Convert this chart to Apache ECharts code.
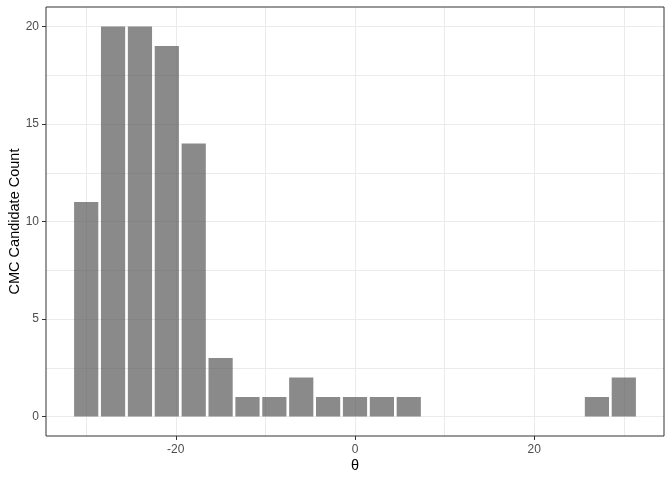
<!DOCTYPE html>
<html>
<head>
<meta charset="utf-8">
<script src="https://cdn.jsdelivr.net/npm/echarts@6/dist/echarts.min.js"></script>
<style>
html,body{margin:0;padding:0;background:#fff;}
#chart{width:672px;height:480px;}
</style>
</head>
<body>
<div id="chart"></div>
<script>
// Data
var thetaBins = [-30,-27,-24,-21,-18,-15,-12,-9,-6,-3,0,3,6,9,12,15,18,21,24,27,30];
var counts    = [11,20,20,19,14,3,1,1,2,1,1,1,1,0,0,0,0,0,0,1,2];
var xTicks = [-20, 0, 20];
var xMinor = [-30, -10, 10, 30];
var yTicks = [0, 5, 10, 15, 20];
var yMinor = [2.5, 7.5, 12.5, 17.5];
var binWidth = 3;

var barHalf = binWidth * 0.9 / 2;
var xMin = thetaBins[0] - barHalf, xMax = thetaBins[thetaBins.length - 1] + barHalf;
var xPad = (xMax - xMin) * 0.05;
var yMaxData = Math.max.apply(null, counts);
var yPad = yMaxData * 0.05;

var font = '"Liberation Sans", Arial, sans-serif';
var chart = echarts.init(document.getElementById('chart'), null, {renderer: 'canvas'});

var gridLines = [];
xTicks.concat(xMinor).forEach(function (v) { gridLines.push({xAxis: v}); });
yTicks.concat(yMinor).forEach(function (v) { gridLines.push({yAxis: v}); });

chart.setOption({
  animation: false,
  grid: {left: 46, right: 8, top: 7, bottom: 44, containLabel: false, outerBoundsMode: 'none',
         show: true, borderColor: '#333333', borderWidth: 1, backgroundColor: 'transparent', z: 10},
  xAxis: {
    type: 'value', min: xMin - xPad, max: xMax + xPad,
    name: 'θ', nameLocation: 'middle', nameGap: 22, nameMoveOverlap: false,
    nameTextStyle: {fontFamily: font, fontSize: 14.5, color: '#000'},
    axisLine: {show: false, onZero: false},
    axisTick: {show: true, length: 4, lineStyle: {color: '#333333'}, customValues: xTicks},
    axisLabel: {fontFamily: font, fontSize: 12, color: '#4d4d4d', margin: 8, customValues: xTicks},
    splitLine: {show: false}
  },
  yAxis: {
    type: 'value', min: -yPad, max: yMaxData + yPad,
    name: 'CMC Candidate Count', nameLocation: 'middle', nameGap: 24, nameMoveOverlap: false,
    nameTextStyle: {fontFamily: font, fontSize: 14.5, color: '#000'},
    axisLine: {show: false, onZero: false},
    axisTick: {show: true, length: 4, lineStyle: {color: '#333333'}, customValues: yTicks},
    axisLabel: {fontFamily: font, fontSize: 12, color: '#4d4d4d', margin: 7, customValues: yTicks},
    splitLine: {show: false}
  },
  series: [
    {
      type: 'line', data: [], z: 0, silent: true,
      markLine: {
        z: 0, silent: true, symbol: ['none', 'none'], label: {show: false},
        lineStyle: {color: '#ebebeb', width: 1, type: 'solid'},
        data: gridLines, animation: false
      }
    },
    {
      type: 'custom', z: 3,
      data: thetaBins.map(function (x, i) { return [x, counts[i]]; }),
      renderItem: function (params, api) {
        var x = api.value(0), v = api.value(1);
        if (!v) return null;
        var p1 = api.coord([x - barHalf, v]);
        var p2 = api.coord([x + barHalf, 0]);
        return {
          type: 'rect',
          shape: {x: p1[0], y: p1[1], width: p2[0] - p1[0], height: p2[1] - p1[1]},
          style: {fill: 'rgba(89,89,89,0.7)'}
        };
      }
    }
  ]
});
</script>
</body>
</html>
